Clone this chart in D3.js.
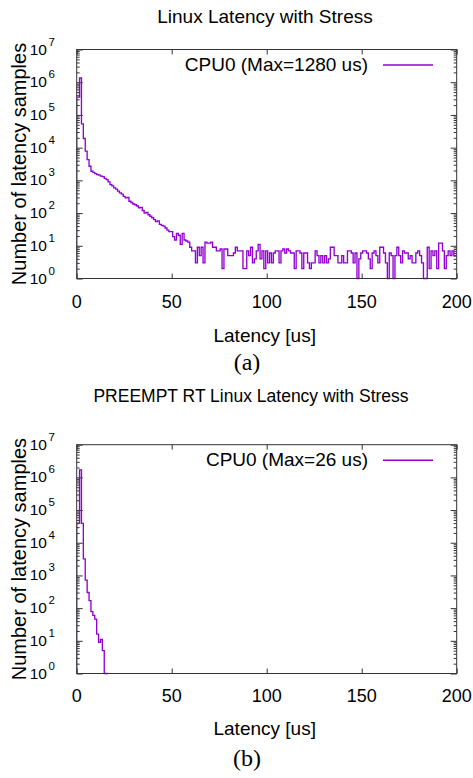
<!DOCTYPE html>
<html>
<head>
<meta charset="utf-8">
<script src="https://cdn.jsdelivr.net/npm/d3@7"></script>
<style>
  html, body { margin: 0; padding: 0; background: #fff; }
  svg { display: block; }
  text { font-family: "Liberation Sans", Arial, sans-serif; fill: #000; }
</style>
</head>
<body>
<svg id="chart" width="473" height="778"></svg>
<script>
// ---------- DATA ----------
const panelTitles = ["Linux Latency with Stress", "PREEMPT RT Linux Latency with Stress"];
const panelCaptions = ["(a)", "(b)"];
const legendLabels = ["CPU0 (Max=1280 us)", "CPU0 (Max=26 us)"];
const xTicks = [0, 50, 100, 150, 200];
const yTickExponents = [0, 1, 2, 3, 4, 5, 6, 7];
const xLabel = "Latency [us]";
const yLabel = "Number of latency samples";

// Histogram counts per 1 us bin (bin i centred on i us), Linux, bins 0..200
const linuxCounts = [
  350000, 350000, 1350000, 53000, 19000, 7800, 4300, 2700, 1900, 1750,
  1600, 1500, 1450, 1350, 1300, 1150, 1050, 900, 740, 680,
  590, 540, 470, 415, 380, 325, 290, 300, 230, 210,
  190, 180, 165, 145, 150, 120, 100, 105, 89, 80,
  72, 63, 55, 58, 45, 42, 40, 35, 30, 27,
  27, 19, 15, 24, 21, 11, 24, 15, 14, 13,
  9, 7, 7, 3, 9, 5, 9, 3, 13, 12,
  12, 13, 9, 9, 7, 7, 8, 2, 8, 8,
  5, 5, 5, 6, 9, 7, 7, 7, 2, 2,
  7, 5, 9, 3, 4, 7, 11, 4, 7, 2,
  7, 3, 6, 3, 6, 7, 7, 3, 7, 8,
  6, 8, 7, 6, 6, 2, 7, 7, 6, 2,
  6, 6, 3, 2, 3, 3, 7, 5, 3, 5,
  3, 5, 3, 4, 9, 9, 5, 5, 3, 3,
  5, 3, 3, 7, 7, 6, 3, 6, 1, 4,
  6, 7, 7, 6, 4, 2, 6, 7, 5, 3,
  9, 9, 6, 3, 1, 6, 5, 1, 5, 9,
  5, 3, 7, 6, 6, 4, 5, 3, 3, 6,
  7, 5, 3, 1, 1, 9, 2, 7, 5, 7,
  2, 12, 12, 7, 2, 5, 7, 5, 7, 5,
  5
];
// Histogram counts per 1 us bin, PREEMPT RT, bins 0..16
const rtCounts = [40000, 40000, 1700000, 39000, 3200, 720, 300, 170, 78, 60, 46, 16, 9, 11, 5, 1, 1];

// ---------- LAYOUT ----------
const svg = d3.select("#chart");
const plotLeft = 76.7, plotRight = 456.7;
const panels = [
  { id: "a", top: 49.5, bottom: 278.5, counts: linuxCounts, title: panelTitles[0], titleX: 265, titleY: 23, titleSize: 19,
    caption: panelCaptions[0], legend: legendLabels[0], tickLabelY: 308, xLabelY: 342, captionY: 370 },
  { id: "b", top: 444.7, bottom: 673.5, counts: rtCounts, title: panelTitles[1], titleX: 251, titleY: 402, titleSize: 17.5,
    caption: panelCaptions[1], legend: legendLabels[1], tickLabelY: 702, xLabelY: 735, captionY: 766 }
];
const lineColor = "#9400d3";
const frameColor = "#333";

panels.forEach(p => {
  const g = svg.append("g");
  const x = d3.scaleLinear().domain([0, 200]).range([plotLeft, plotRight]);
  const y = d3.scaleLog().domain([1, 1e7]).range([p.bottom, p.top]);

  g.append("clipPath").attr("id", "clip-" + p.id)
    .append("rect").attr("x", plotLeft).attr("y", p.top - 2)
    .attr("width", plotRight - plotLeft).attr("height", p.bottom - p.top + 4);

  // Title
  g.append("text").attr("x", p.titleX).attr("y", p.titleY)
    .attr("text-anchor", "middle").attr("font-size", p.titleSize).text(p.title);

  // Minor / major y ticks (log), on both sides, pointing inward
  const minor = [];
  for (let e = 0; e < 7; e++) for (let m = 2; m <= 9; m++) minor.push(m * Math.pow(10, e));
  const majors = yTickExponents.map(e => Math.pow(10, e));

  [[d3.axisLeft, plotLeft], [d3.axisRight, plotRight]].forEach(([ax, xp]) => {
    g.append("g").attr("transform", `translate(${xp},0)`)
      .call(ax(y).tickValues(minor).tickSize(-3).tickFormat(""))
      .call(s => s.select(".domain").remove())
      .call(s => s.selectAll("line").attr("stroke", frameColor));
    g.append("g").attr("transform", `translate(${xp},0)`)
      .call(ax(y).tickValues(majors).tickSize(-6).tickFormat(""))
      .call(s => s.select(".domain").remove())
      .call(s => s.selectAll("line").attr("stroke", frameColor));
  });

  // x ticks (bottom + mirrored top)
  g.append("g").attr("transform", `translate(0,${p.bottom})`)
    .call(d3.axisBottom(x).tickValues(xTicks).tickSize(-5).tickFormat(""))
    .call(s => s.select(".domain").remove())
    .call(s => s.selectAll("line").attr("stroke", frameColor));
  g.append("g").attr("transform", `translate(0,${p.top})`)
    .call(d3.axisTop(x).tickValues(xTicks).tickSize(-5).tickFormat(""))
    .call(s => s.select(".domain").remove())
    .call(s => s.selectAll("line").attr("stroke", frameColor));

  g.selectAll("text.xt").data(xTicks).join("text").attr("class", "xt")
    .attr("x", d => x(d)).attr("y", p.tickLabelY)
    .attr("text-anchor", "middle").attr("font-size", 18).text(d => d);

  // y tick labels 10^e
  const yl = g.selectAll("g.yt").data(yTickExponents).join("g").attr("class", "yt")
    .attr("transform", d => `translate(0,${y(Math.pow(10, d))})`);
  yl.append("text").attr("x", 47).attr("y", 5).attr("text-anchor", "end")
    .attr("font-size", 15.5).text("10");
  yl.append("text").attr("x", 48.5).attr("y", -4).attr("text-anchor", "start")
    .attr("font-size", 11.5).text(d => d);

  // axis labels and caption
  g.append("text").attr("transform", `translate(26,${(p.top + p.bottom) / 2}) rotate(-90)`)
    .attr("text-anchor", "middle").attr("font-size", 20).text(yLabel);
  g.append("text").attr("x", (plotLeft + plotRight) / 2 - 2).attr("y", p.xLabelY)
    .attr("text-anchor", "middle").attr("font-size", 19).text(xLabel);
  g.append("text").attr("x", 247).attr("y", p.captionY)
    .attr("text-anchor", "middle").attr("font-size", 24)
    .style("font-family", "'Liberation Serif', 'Times New Roman', serif").text(p.caption);

  // histogram steps: bin i spans [i-0.5, i+0.5], vertical from baseline at x=0
  const n = p.counts.length;
  const stepPts = [[0, 1]];
  p.counts.forEach((c, i) => stepPts.push([Math.max(i - 0.5, 0), c]));
  stepPts.push([n - 0.5, 1]);
  const line = d3.line().x(d => x(d[0])).y(d => y(d[1])).curve(d3.curveStepAfter);
  g.append("path").attr("d", line(stepPts))
    .attr("clip-path", `url(#clip-${p.id})`)
    .attr("fill", "none").attr("stroke", lineColor).attr("stroke-width", 1.35);

  // frame
  g.append("rect").attr("x", plotLeft).attr("y", p.top)
    .attr("width", plotRight - plotLeft).attr("height", p.bottom - p.top)
    .attr("fill", "none").attr("stroke", frameColor).attr("stroke-width", 1);

  // legend
  g.append("text").attr("x", 368).attr("y", p.top + 21)
    .attr("text-anchor", "end").attr("font-size", 19).text(p.legend);
  g.append("line").attr("x1", 383).attr("x2", 433)
    .attr("y1", p.top + 15.5).attr("y2", p.top + 15.5)
    .attr("stroke", lineColor).attr("stroke-width", 1.35);
});
</script>
</body>
</html>
